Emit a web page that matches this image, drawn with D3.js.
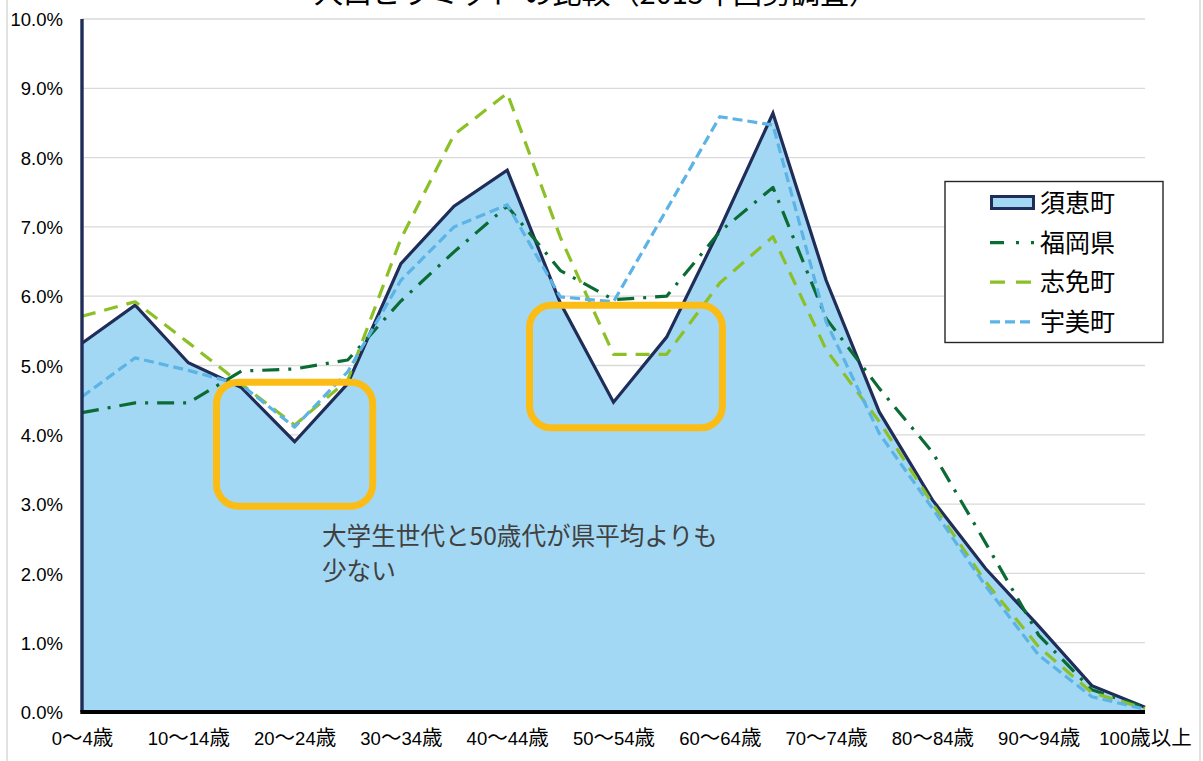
<!DOCTYPE html>
<html lang="ja">
<head>
<meta charset="utf-8">
<script src="https://cdn.jsdelivr.net/npm/d3@7"></script>
<style>
  html, body { margin: 0; padding: 0; background: #fff; }
  svg { display: block; }
</style>
</head>
<body>
<svg id="chart" width="1203" height="761"></svg>
<script>
// 年齢5歳階級別の人口構成比（%）
const ageGroups = ["0〜4歳","5〜9歳","10〜14歳","15〜19歳","20〜24歳","25〜29歳","30〜34歳",
  "35〜39歳","40〜44歳","45〜49歳","50〜54歳","55〜59歳","60〜64歳","65〜69歳","70〜74歳",
  "75〜79歳","80〜84歳","85〜89歳","90〜94歳","95〜99歳","100歳以上"];

const sueTown     = [5.32, 5.87, 5.04, 4.68, 3.90, 4.74, 6.47, 7.30, 7.82, 5.90, 4.47,
                     5.41, 6.97, 8.64, 6.23, 4.33, 3.06, 2.07, 1.24, 0.38, 0.07];
const fukuokaPref = [4.32, 4.46, 4.46, 4.92, 4.95, 5.08, 5.93, 6.64, 7.30, 6.37, 5.95,
                     6.00, 6.93, 7.57, 5.68, 4.67, 3.75, 2.44, 1.11, 0.32, 0.06];
const shimeTown   = [5.71, 5.92, 5.33, 4.73, 4.14, 4.79, 6.83, 8.33, 8.93, 6.85, 5.16,
                     5.16, 6.19, 6.86, 5.23, 4.19, 3.01, 1.88, 0.94, 0.28, 0.05];
const umiTown     = [4.55, 5.11, 4.93, 4.72, 4.11, 4.91, 6.23, 7.00, 7.32, 5.99, 5.92,
                     7.25, 8.59, 8.47, 5.63, 4.02, 2.94, 1.82, 0.82, 0.22, 0.04];

const seriesNames = ["須恵町", "福岡県", "志免町", "宇美町"];
const yTickValues = [0, 1, 2, 3, 4, 5, 6, 7, 8, 9, 10];

const titleText = "人口ピラミッド の比較（2015年国勢調査）";
const noteLines = ["大学生世代と50歳代が県平均よりも", "少ない"];
// 強調枠の範囲（年齢階級の位置, %）
const highlightBoxes = [
  { from: 2.53, to: 5.47, top: 4.76, bottom: 2.97 },
  { from: 8.42, to: 12.05, top: 5.87, bottom: 4.10 }
];

// ---- layout & styles ----
const W = 1203, H = 761;
const plot = { left: 82, right: 1145, top: 19, bottom: 712 };
const colors = {
  areaFill: "#a3d8f5", areaLine: "#1f2d58",
  pref: "#0a6b34", shime: "#8cc027", umi: "#5cb3e6",
  box: "#fbbd15", grid: "#d9d9d9"
};
const latinFont = "'Liberation Sans', Arial, sans-serif";
const cjkFont = "'Noto Sans CJK JP', 'Noto Sans', sans-serif";

const svg = d3.select("#chart");

const x = d3.scalePoint().domain(ageGroups).range([plot.left, plot.right]);
const xIndex = d3.scaleLinear().domain([0, ageGroups.length - 1]).range([plot.left, plot.right]);
const y = d3.scaleLinear().domain([0, 10]).range([plot.bottom, plot.top]);

// chart frame edges
svg.append("g").selectAll("line").data([7, 1200]).join("line")
  .attr("x1", d => d).attr("x2", d => d).attr("y1", 0).attr("y2", H)
  .attr("stroke", colors.grid).attr("stroke-width", 1.5);

// title (its upper part lies above the frame)
svg.append("text")
  .attr("x", 596).attr("y", 4)
  .attr("text-anchor", "middle")
  .attr("font-family", cjkFont).attr("font-size", 29)
  .attr("fill", "#000")
  .text(titleText);

// gridlines
svg.append("g").selectAll("line").data(yTickValues.filter(v => v > 0)).join("line")
  .attr("x1", plot.left).attr("x2", plot.right)
  .attr("y1", d => y(d)).attr("y2", d => y(d))
  .attr("stroke", colors.grid).attr("stroke-width", 1.3);

// 須恵町 (area)
const area = d3.area()
  .x((d, i) => x(ageGroups[i]))
  .y0(y(0)).y1(d => y(d));
const line = d3.line()
  .x((d, i) => x(ageGroups[i]))
  .y(d => y(d));

svg.append("path").datum(sueTown)
  .attr("d", area).attr("fill", colors.areaFill);
svg.append("path").datum(sueTown)
  .attr("d", line).attr("fill", "none")
  .attr("stroke", colors.areaLine).attr("stroke-width", 3.2)
  .attr("stroke-linejoin", "miter");

// comparison lines
const lineSeries = [
  { values: fukuokaPref, color: colors.pref,  dash: "17,9,3,9" },
  { values: shimeTown,   color: colors.shime, dash: "14,9" },
  { values: umiTown,     color: colors.umi,   dash: "10,5" }
];
svg.append("g").selectAll("path").data(lineSeries).join("path")
  .attr("d", d => line(d.values))
  .attr("fill", "none")
  .attr("stroke", d => d.color)
  .attr("stroke-width", 3.2)
  .attr("stroke-dasharray", d => d.dash)
  .attr("stroke-linejoin", "round");

// axes
const yAxis = d3.axisLeft(y).tickValues(yTickValues)
  .tickSize(0).tickPadding(19)
  .tickFormat(d => d3.format(".1f")(d) + "%");
const gy = svg.append("g").attr("transform", `translate(${plot.left},0)`).call(yAxis);
gy.select(".domain").remove();
gy.selectAll("text")
  .attr("font-family", latinFont).attr("font-size", 18.5)
  .attr("fill", "#000").attr("dy", "0.36em");

const xAxis = d3.axisBottom(x)
  .tickValues(ageGroups.filter((d, i) => i % 2 === 0))
  .tickSize(0).tickPadding(0);
const gx = svg.append("g").attr("transform", `translate(0,${plot.bottom})`).call(xAxis);
gx.select(".domain").remove();
gx.selectAll("text").each(function(label) {
  const t = d3.select(this).text(null)
    .attr("y", 32.5).attr("dy", null)
    .attr("fill", "#000");
  const runs = label.match(/[0-9A-Za-z]+|[^0-9A-Za-z]+/g);
  runs.forEach(r => {
    const latin = /^[0-9A-Za-z]+$/.test(r);
    t.append("tspan")
      .attr("font-family", latin ? latinFont : cjkFont)
      .attr("font-size", latin ? 18.5 : 20.5)
      .text(r);
  });
});

svg.append("line")
  .attr("x1", plot.left).attr("x2", plot.left)
  .attr("y1", y(10)).attr("y2", y(0))
  .attr("stroke", colors.areaLine).attr("stroke-width", 3.4);
svg.append("line")
  .attr("x1", plot.left - 1.7).attr("x2", plot.right)
  .attr("y1", y(0)).attr("y2", y(0))
  .attr("stroke", "#000").attr("stroke-width", 4.2);

// highlight boxes
svg.append("g").selectAll("rect").data(highlightBoxes).join("rect")
  .attr("x", d => xIndex(d.from))
  .attr("y", d => y(d.top))
  .attr("width", d => xIndex(d.to) - xIndex(d.from))
  .attr("height", d => y(d.bottom) - y(d.top))
  .attr("rx", 22).attr("ry", 22)
  .attr("fill", "none")
  .attr("stroke", colors.box).attr("stroke-width", 7);

// note
svg.append("g").selectAll("text").data(noteLines).join("text")
  .attr("x", 322).attr("y", (d, i) => 545 + i * 35)
  .attr("font-family", cjkFont).attr("font-size", 24.6)
  .attr("fill", "#404040")
  .text(d => d);

// legend
const legend = svg.append("g");
legend.append("rect")
  .attr("x", 945).attr("y", 181.5).attr("width", 218).attr("height", 161)
  .attr("fill", "#fff").attr("stroke", "#262626").attr("stroke-width", 1.4);

const legendRows = seriesNames.map((name, i) => ({ name, i, cy: 203 + i * 39.6 }));
const legendDash = [null, "14,12,3,12,3,60", "15,11", "10,5"];
const legendColor = [colors.areaLine, colors.pref, colors.shime, colors.umi];

legendRows.forEach(r => {
  if (r.i === 0) {
    legend.append("rect")
      .attr("x", 991.5).attr("y", r.cy - 6.5).attr("width", 42).attr("height", 12)
      .attr("fill", colors.areaFill)
      .attr("stroke", colors.areaLine).attr("stroke-width", 3);
  } else {
    legend.append("line")
      .attr("x1", 990).attr("x2", 1035)
      .attr("y1", r.cy).attr("y2", r.cy)
      .attr("stroke", legendColor[r.i]).attr("stroke-width", 3.2)
      .attr("stroke-dasharray", legendDash[r.i]);
  }
  legend.append("text")
    .attr("x", 1040).attr("y", r.cy + 9)
    .attr("font-family", cjkFont).attr("font-size", 25)
    .attr("fill", "#000")
    .text(r.name);
});
</script>
</body>
</html>
